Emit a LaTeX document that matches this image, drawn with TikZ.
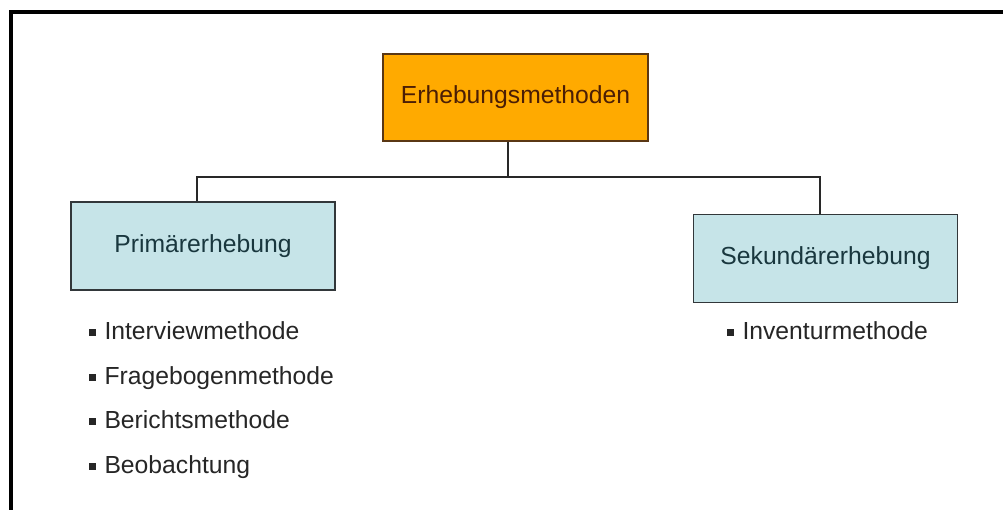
\documentclass[tikz,border=0pt]{standalone}
\usepackage{fontspec}
\setmainfont{Liberation Sans}
\definecolor{topfill}{RGB}{255,170,0}
\definecolor{topdraw}{RGB}{90,55,20}
\definecolor{toptext}{RGB}{75,30,5}
\definecolor{subfill}{RGB}{198,228,232}
\definecolor{subdraw}{RGB}{50,55,58}
\definecolor{subtext}{RGB}{25,55,62}
\definecolor{linkcol}{RGB}{40,40,40}
\newcommand{\bulletsq}{\raisebox{0.12em}{\rule{0.27em}{0.27em}}\hspace{0.35em}}
\tikzset{
  box/.style={draw, line width=1.2pt, minimum width=#1, inner sep=0pt, font=\fontsize{24.7}{28}\selectfont},
  topbox/.style={box=265pt, minimum height=87pt, fill=topfill, draw=topdraw, text=toptext},
  subbox/.style={box=264pt, minimum height=88pt, fill=subfill, draw=subdraw, text=subtext},
  item/.style={anchor=base west, inner sep=0pt, text=black!85, font=\fontsize{24.7}{28}\selectfont},
  link/.style={draw=linkcol, line width=1.2pt},
  frame/.style={line width=4pt, draw=black}
}
\begin{document}
\begin{tikzpicture}[x=1pt, y=-1pt]
\useasboundingbox (0,0) rectangle (1003,510);
\fill[white] (0,0) rectangle (1003,510);
% outer frame: left and top edges only
\coordinate (fbl) at (11,512);
\coordinate (ftl) at (11,12);
\coordinate (ftr) at (1005,12);
\draw[frame] (fbl) -- (ftl) -- (ftr);

% boxes
\node[topbox] (root) at (515.5,97.5) {Erhebungsmethoden};
\node[subbox] (prim) at (203,246) {Primärerhebung};
\node[subbox] (sek) at (825.5,258.5) {Sekundärerhebung};

% connectors (joints sit slightly left of the box centres)
\coordinate (rootj) at ([xshift=-7.5pt]root.south);
\coordinate (primj) at ([xshift=-6pt]prim.north);
\coordinate (sekj) at ([xshift=-5.5pt]sek.north);
\coordinate (bus) at (rootj |- 0,177);
\draw[link] (rootj) -- (bus);
\draw[link] (primj) |- (bus) -| (sekj);

% method lists
\node[item] (i1) at (89,339) {\bulletsq Interviewmethode};
\node[item] (i2) at (89,384) {\bulletsq Fragebogenmethode};
\node[item] (i3) at (89,428) {\bulletsq Berichtsmethode};
\node[item] (i4) at (89,473) {\bulletsq Beobachtung};
\node[item] (i5) at (727,339) {\bulletsq Inventurmethode};
\end{tikzpicture}
\end{document}
